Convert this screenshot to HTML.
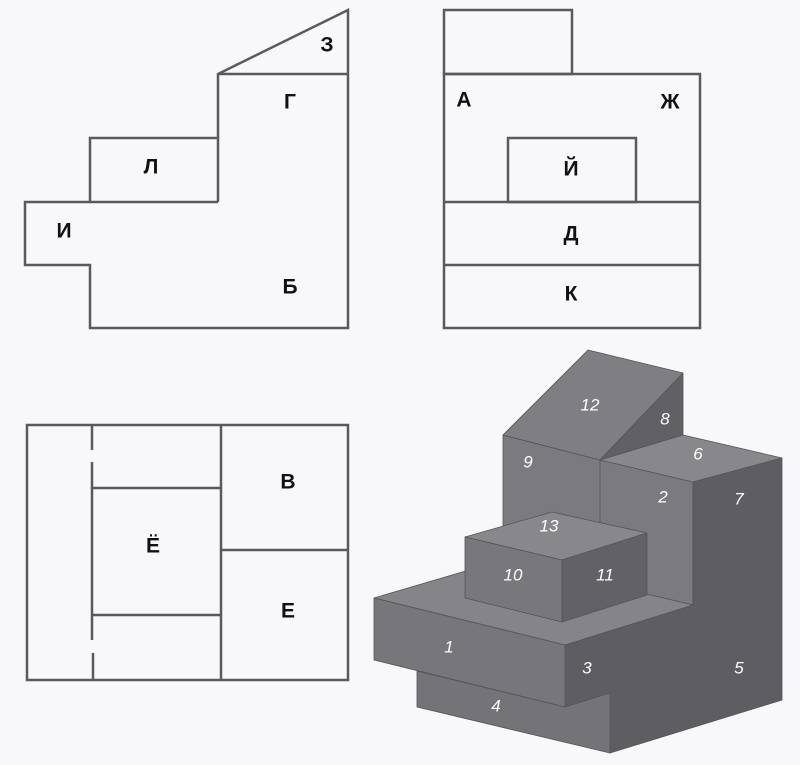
<!DOCTYPE html>
<html><head><meta charset="utf-8"><style>
html,body{margin:0;padding:0;background:#f8f8fa;}
svg{display:block}
.l{font-family:"Liberation Sans","DejaVu Sans",sans-serif;font-weight:bold;font-size:21px;fill:#111;text-anchor:middle;dominant-baseline:middle}
.n{font-family:"Liberation Sans","DejaVu Sans",sans-serif;font-style:italic;font-size:17px;fill:#fff;text-anchor:middle;dominant-baseline:middle}
</style></head><body>
<svg width="800" height="765" viewBox="0 0 800 765">
<g fill="none" stroke="#5a5a5e" stroke-width="2.5">
<polygon points="25,202 90,202 90,138 218,138 218,74 348,10 348,328 90,328 90,265 25,265"/>
<line x1="218" y1="74" x2="348" y2="74"/>
<line x1="90" y1="202" x2="218" y2="202"/>
<line x1="218" y1="138" x2="218" y2="202"/>
<rect x="444" y="10" width="128" height="64"/>
<rect x="444" y="74" width="256" height="254"/>
<rect x="508" y="138" width="128" height="64"/>
<line x1="444" y1="202" x2="700" y2="202"/>
<line x1="444" y1="265" x2="700" y2="265"/>
<rect x="27" y="425" width="321" height="255"/>
<line x1="92" y1="425" x2="92" y2="450"/>
<line x1="92" y1="462" x2="92" y2="640"/>
<line x1="93" y1="653" x2="93" y2="680"/>
<line x1="221" y1="425" x2="221" y2="680"/>
<line x1="92" y1="488" x2="221" y2="488"/>
<line x1="92" y1="615" x2="221" y2="615"/>
<line x1="221" y1="550" x2="348" y2="550"/>
</g>
<g>
<text class="l" x="327" y="46">З</text><text class="l" x="290" y="103">Г</text>
<text class="l" x="151" y="168">Л</text><text class="l" x="64" y="232">И</text>
<text class="l" x="290" y="288">Б</text><text class="l" x="464" y="101">А</text>
<text class="l" x="670" y="103">Ж</text><text class="l" x="571" y="170">Й</text>
<text class="l" x="571" y="235">Д</text><text class="l" x="571" y="295">К</text>
<text class="l" x="288" y="483">В</text><text class="l" x="153" y="547">Ё</text>
<text class="l" x="288" y="612">Е</text>
</g>
<g stroke="#555558" stroke-width="0.8" stroke-linejoin="round">
<polygon points="503,435 600,460 693,482 693,605 503,560" fill="#7b7b7f"/>
<line x1="600" y1="460" x2="600" y2="590"/>
<polygon points="588,350 683,373 600,460 503,435" fill="#7f7f83"/>
<polygon points="683,373 683,435 600,460" fill="#616165"/>
<polygon points="600,460 683,435 782,458 693,482" fill="#88888c"/>
<polygon points="565,645 693,605 693,482 782,458 782,700 610,753 610,693 565,707" fill="#5e5e62"/>
<polygon points="374,598 503,560 693,605 565,645" fill="#858589"/>
<polygon points="374,598 565,645 565,707 374,660" fill="#77777b"/>
<polygon points="417,671 565,707 610,693 610,753 417,707" fill="#747478"/>
<polygon points="465,537 552,512 647,533 562,560" fill="#88888c"/>
<polygon points="465,537 562,560 562,622 465,598" fill="#78787c"/>
<polygon points="562,560 647,533 647,595 562,622" fill="#626266"/>
</g>
<g>
<text class="n" x="590" y="406">12</text><text class="n" x="665" y="420">8</text>
<text class="n" x="528" y="463">9</text><text class="n" x="698" y="455">6</text>
<text class="n" x="663" y="498">2</text><text class="n" x="739" y="500">7</text>
<text class="n" x="549" y="527">13</text><text class="n" x="513" y="576">10</text>
<text class="n" x="605" y="576">11</text><text class="n" x="449" y="648">1</text>
<text class="n" x="587" y="669">3</text><text class="n" x="739" y="669">5</text>
<text class="n" x="496" y="707">4</text>
</g>
</svg>
</body></html>
